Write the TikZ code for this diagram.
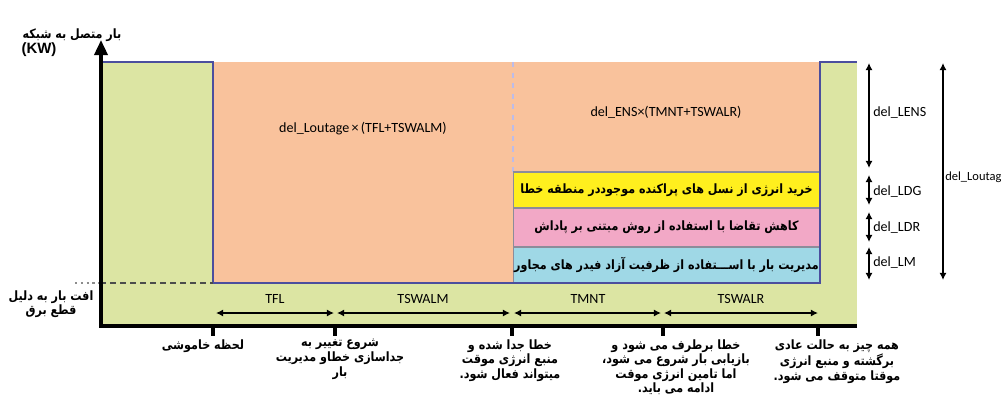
\documentclass[tikz,border=0pt]{standalone}
\usepackage{fontspec}
\setmainfont{Carlito}
\newfontfamily\fa[Script=Arabic,FakeStretch=0.87]{DejaVu Sans}
\newfontfamily\lsans{Liberation Sans}
\TeXXeTstate=1
\usetikzlibrary{arrows.meta}
\newcommand{\rl}[1]{\beginR #1\endR}
\definecolor{bgG}{HTML}{DCE5A3}
\definecolor{orng}{HTML}{F9C29C}
\definecolor{yel}{HTML}{FFEF1E}
\definecolor{pnk}{HTML}{F2A8C6}
\definecolor{lblue}{HTML}{9FD8E6}
\definecolor{outl}{HTML}{4B4E9E}
\definecolor{boxline}{HTML}{8C8C9A}
\tikzset{
  fatext/.style={font=\fa\bfseries\fontsize{7.3}{8.3}\selectfont, align=center, inner sep=0pt},
  latin/.style={font=\fontsize{8}{9}\selectfont, inner sep=0pt},
  dimarrow/.style={line width=0.9pt, {Latex[length=4pt,width=4pt]}-{Latex[length=4pt,width=4pt]}},
  colbox/.style={draw=boxline, line width=0.6pt, minimum width=6.14cm, inner sep=0pt, font=\fa\bfseries\fontsize{7.3}{8.3}\selectfont},
  axisline/.style={line width=2pt},
}
\begin{document}
\begin{tikzpicture}[x=0.02cm,y=-0.02cm]
\useasboundingbox (0,0) rectangle (1001,410);
\fill[white] (0,0) rectangle (1001,410);
% areas
\fill[bgG] (101,62) rectangle (857,326);
\fill[orng] (213,62) rectangle (820,283);
\draw[gray!50!blue!35, dashed, line width=1pt] (513,62) -- (513,172);
% boxes
\node[colbox, fill=yel, minimum height=0.72cm] (yb) at (666.5,190) {\rl{خرید انرژی از نسل های پراکنده موجوددر منطقه خطا}};
\node[colbox, fill=pnk, minimum height=0.78cm] (pb) at (666.5,227.5) {\rl{کاهش تقاضا با استفاده از روش مبتنی بر پاداش}};
\node[colbox, fill=lblue, minimum height=0.72cm] (bb) at (666.5,265) {\rl{مدیریت بار با اســـتفاده از ظرفیت آزاد فیدر های مجاور}};
% load outline
\draw[outl, line width=1.4pt] (101,62) -- (213,62) -- (213,283) -- (820,283) -- (820,62) -- (857,62);
\draw[black!45, dotted, line width=1.3pt] (75,283) -- (100,283);
\draw[black!70, line width=1.3pt, dash pattern=on 3.4pt off 2.3pt] (100,283) -- (213,283);
% formulas
\node[latin] (f1) at (363,129) {del\_Loutage\,×\,(TFL+TSWALM)};
\node[latin] (f2) at (666,112) {del\_ENS×(TMNT+TSWALR)};
% axes
\draw[axisline, -{Triangle[width=0.26cm,length=0.3cm]}] (857,326) -- (101,326) -- (101,40);
\foreach \tx in {213,335,512,663,818} \draw[axisline] (\tx,326) -- (\tx,336);
% durations
\coordinate (a0) at (216,313); \coordinate (a1) at (334,313);
\coordinate (b0) at (337,313); \coordinate (b1) at (510,313);
\coordinate (c0) at (514,313); \coordinate (c1) at (661,313);
\coordinate (d0) at (664,313); \coordinate (d1) at (818,313);
\draw[dimarrow] (a0) -- (a1);
\draw[dimarrow] (b0) -- (b1);
\draw[dimarrow] (c0) -- (c1);
\draw[dimarrow] (d0) -- (d1);
\node[latin] (tfl) at (275,299) {TFL};
\node[latin] (tswalm) at (423,299) {TSWALM};
\node[latin] (tmnt) at (588,299) {TMNT};
\node[latin] (tswalr) at (741,299) {TSWALR};
% right dimensions
\coordinate (r1) at (869,63); \coordinate (r2) at (869,168);
\coordinate (r3) at (869,175); \coordinate (r4) at (869,205);
\coordinate (r5) at (869,212); \coordinate (r6) at (869,242);
\coordinate (r7) at (869,247); \coordinate (r8) at (869,280);
\coordinate (q1) at (943,63); \coordinate (q2) at (943,280);
\draw[dimarrow] (r1) -- (r2);
\draw[dimarrow] (r3) -- (r4);
\draw[dimarrow] (r5) -- (r6);
\draw[dimarrow] (r7) -- (r8);
\draw[dimarrow] (q1) -- (q2);
\node[latin, anchor=west] (lens) at (873,113) {del\_LENS};
\node[latin, anchor=west] (ldg) at (873,192) {del\_LDG};
\node[latin, anchor=west] (ldr) at (873,228) {del\_LDR};
\node[latin, anchor=west] (lm) at (873,263) {del\_LM};
\node[latin, anchor=west, font=\fontsize{7.1}{8}\selectfont] (lout) at (945,177) {del\_Loutag};
% axis labels
\node[fatext] (ylab) at (72,35) {\rl{بار متصل به شبکه}};
\node[font=\lsans\bfseries\fontsize{8.5}{9}\selectfont, inner sep=0pt] (kw) at (39,50) {(KW)};
\node[fatext] (drop) at (51,304) {\rl{افت بار به دلیل}\\\rl{قطع برق}};
% bottom labels
\node[fatext, anchor=north] (m1) at (203,339) {\rl{لحظه خاموشی}};
\node[fatext, anchor=north] (m2) at (340,339) {\rl{شروع تغییر به}\\\rl{جداسازی خطاو مدیریت}\\\rl{بار}};
\node[fatext, anchor=north] (m3) at (510,339) {\rl{خطا جدا شده و}\\\rl{منبع انرژی موقت}\\\rl{میتواند فعال شود.}};
\node[fatext, anchor=north] (m4) at (676,339) {\rl{خطا برطرف می شود و}\\\rl{بازیابی بار شروع می شود،}\\\rl{اما تامین انرژی موقت}\\\rl{ادامه می باید.}};
\node[fatext, anchor=north] (m5) at (837,339) {\rl{همه چیز به حالت عادی}\\\rl{برگشته و منبع انرژی}\\\rl{موقتا متوقف می شود.}};
\end{tikzpicture}
\end{document}
